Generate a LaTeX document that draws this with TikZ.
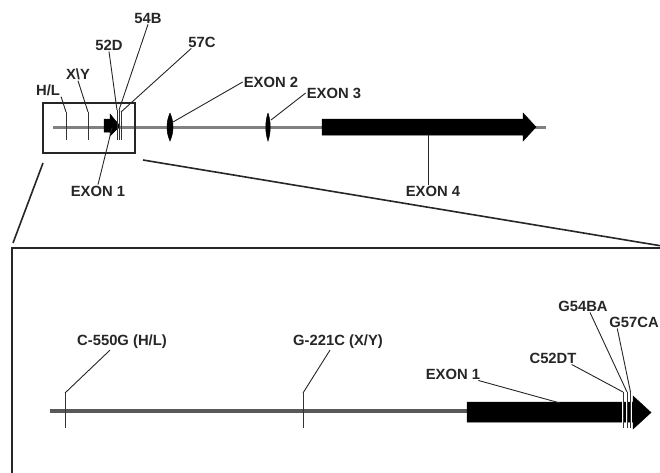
\documentclass[tikz,border=0pt]{standalone}
\usepackage{fontspec}
\setmainfont{Liberation Sans}
\usetikzlibrary{positioning}

\begin{document}
\begin{tikzpicture}[
      x=1pt, y=-1pt,
      every node/.style={font=\fontsize{14.8pt}{17pt}\selectfont\bfseries, inner sep=1pt, text=black!85},
      gene/.style={line width=3pt, black!50},
      genebig/.style={line width=4pt, black!65},
      exon/.style={fill=black, draw=black, line width=0.5pt},
      tick/.style={line width=0.9pt, black!80},
      halo/.style={line width=2pt, white},
      lead/.style={line width=0.9pt, black!85},
      frame/.style={line width=1.6pt, black!85}
  ]
    \useasboundingbox (0,0) rectangle (660,472);
    \clip (0,0) rectangle (660,472);

    % overview of the gene
    \draw[gene] (53,127) -- (546,127);
    \draw[frame] (43,103) rectangle (135,153);
    \draw[exon] (104,119) -- (110,119) -- (110,114) -- (120,126) -- (110,136) -- (110,132) -- (104,132) -- cycle;
    \draw[exon] (170,113) .. controls (174,122) and (174,132) .. (170,141) .. controls (166,132) and (166,122) .. (170,113);
    \draw[exon] (268,113) .. controls (271,122) and (271,132) .. (268,141) .. controls (265,132) and (265,122) .. (268,113);
    \draw[exon] (322,119) -- (523,119) -- (523,113) -- (536,127) -- (523,141) -- (523,135) -- (322,135) -- cycle;

    \coordinate (thl) at (66,112);
    \coordinate (txy) at (88,112);
    \coordinate (t52) at (117,110);
    \coordinate (t54) at (119,110);
    \coordinate (t57) at (121,112);
    \foreach \t in {thl,txy,t52,t54,t57}
      \draw[tick] (\t) -- (\t |- 0,140);

    \node (hl) at (48,90) {H/L};
    \node (xy) at (78,74) {X\textbackslash Y};
    \node (d52) at (109,45) {52D};
    \node (b54) at (148,18) {54B};
    \node (c57) at (202,42) {57C};
    \node (ex1) at (98,191) {EXON 1};
    \node (ex2) at (271,82) {EXON 2};
    \node (ex3) at (334,93) {EXON 3};
    \node (ex4) at (433,191) {EXON 4};

    \coordinate (e1) at (112,128);
    \coordinate (e2) at (173,122);
    \coordinate (e3) at (271,120);
    \coordinate (e4) at (428,135);

    \draw[lead] (hl.south east) -- (thl);
    \draw[lead] (xy.south) -- (txy);
    \draw[lead] (d52.south) -- (t52);
    \draw[lead] (b54.south) -- (t54);
    \draw[lead] ([xshift=4pt]c57.south west) -- (t57);
    \draw[lead] (ex1.north) -- (e1);
    \draw[lead] (ex2.west) -- (e2);
    \draw[lead] (ex3.west) -- (e3);
    \draw[lead] (e4) -- (e4 |- ex4.north);

    % zoom lines and enlarged region
    \coordinate (zl) at (43,163);
    \coordinate (zr) at (143,160);
    \draw[frame] (13,243) -- (zl);
    \draw[frame] (zr) -- (662,246);
    \draw[frame] (12,480) -- (12,248) -- (670,248);

    \draw[genebig] (50,411) -- (470,411);
    \draw[exon] (467,402) -- (633,402) -- (633,396) -- (651,412.5) -- (633,429) -- (633,422) -- (467,422) -- cycle;

    \coordinate (tc550) at (65,393);
    \coordinate (tg221) at (303,393);
    \coordinate (tc52) at (623,392);
    \coordinate (tg54) at (627,392);
    \coordinate (tg57) at (630.5,392);
    \foreach \t in {tc52,tg54,tg57}
      \draw[halo] (\t) -- (\t |- 0,428);
    \foreach \t in {tc550,tg221,tc52,tg54,tg57}
      \draw[tick] (\t) -- (\t |- 0,428);

    \node (c550) at (122,342) {C-550G (H/L)};
    \node (g221) at (338,342) {G-221C (X/Y)};
    \node (ex1b) at (453,374) {EXON 1};
    \node (c52) at (553,358) {C52DT};
    \node (g54) at (583,306) {G54BA};
    \node[anchor=east] (g57) at (660,322) {G57CA};

    \coordinate (e1b) at (560,403);

    \draw[lead] ([xshift=-12pt]c550.south) -- (tc550);
    \draw[lead] ([xshift=-8pt]g221.south) -- (tg221);
    \draw[lead] ([xshift=-3pt]ex1b.south east) -- (e1b);
    \draw[lead] ([xshift=-6pt]c52.south east) -- (tc52);
    \draw[lead] ([xshift=7pt]g54.south) -- (tg54);
    \draw[lead] ([xshift=9pt]g57.south west) -- (tg57);
\end{tikzpicture}
\end{document}
